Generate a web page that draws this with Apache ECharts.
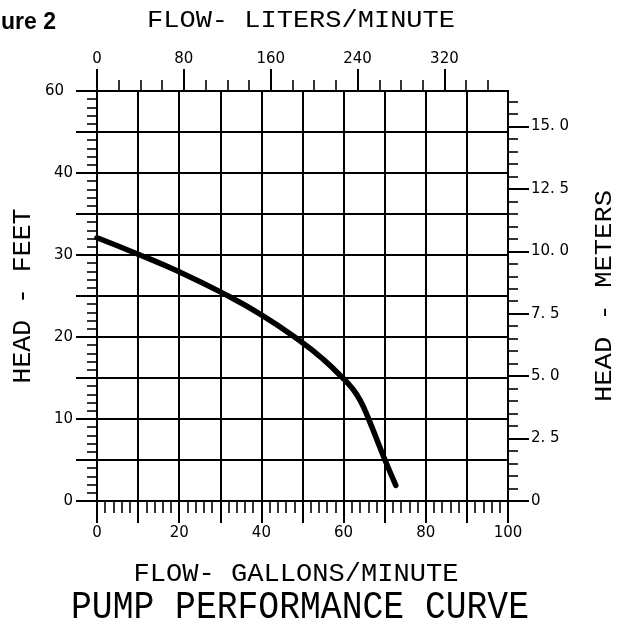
<!DOCTYPE html>
<html><head><meta charset="utf-8">
<script src="https://cdn.jsdelivr.net/npm/echarts@6/dist/echarts.min.js"></script>
<style>html,body{margin:0;padding:0;background:#fff}#c{width:627px;height:625px}</style>
</head><body><div id="c"></div>
<script>
// ---- data ----
const flowGpm = [0, 10, 20, 30, 40, 50, 55, 60, 62, 64, 66, 70, 72.7];
const headFt  = [32.1, 30.1, 27.95, 25.5, 22.7, 19.3, 17.3, 14.9, 13.8, 12.3, 10.1, 5.1, 1.9];
const gpmTicks = [0, 20, 40, 60, 80, 100];
const gpmTickLabels = ['0', '20', '40', '60', '80', '100'];
const ftTicks = [0, 10, 20, 30, 40, 50];
const ftTickLabels = ['0', '10', '20', '30', '40', '60'];
const literTicks = [0, 80, 160, 240, 320];
const literTickLabels = ['0', '80', '160', '240', '320'];
const meterTicks = [0, 2.5, 5, 7.5, 10, 12.5, 15];
const meterTickLabels = ['0', '2. 5', '5. 0', '7. 5', '10. 0', '12. 5', '15. 0'];
const topTitle = 'FLOW- LITERS/MINUTE';
const bottomTitle = 'FLOW- GALLONS/MINUTE';
const mainTitle = 'PUMP PERFORMANCE CURVE';
const leftTitle = 'HEAD - FEET';
const rightTitle = 'HEAD - METERS';
const figLabel = 'Figure 2';

// ---- scales ----
const LITERS_PER_GAL = 3.78541;
const literMax = 100 * LITERS_PER_GAL;
const meterMax = 16.42; // right scale as drawn in the reference
const literMinor = []; for (let v = 0; v <= 360; v += 20) literMinor.push(v);
const meterMinor = []; for (let v = 0; v <= 16; v += 0.5) meterMinor.push(v);

const BLACK = '#000';
const lab = { color: BLACK, fontFamily: 'DejaVu Sans', fontSize: 15 };
const ln = (w) => ({ color: BLACK, width: w });

const cvs = document.createElement('canvas').getContext('2d');
const TFONT = 'Liberation Mono';
function scaledText(text, cx, cy, width, capH, rot) {
  const size = capH / 0.66;
  const font = `normal ${size.toFixed(1)}px "${TFONT}"`;
  cvs.font = font;
  const w = cvs.measureText(text).width;
  return { type: 'text', x: cx, y: cy, rotation: rot || 0, scaleX: width / w, scaleY: 1,
    style: { text, font, fill: BLACK, align: 'center', verticalAlign: 'middle' }, silent: true };
}

const chart = echarts.init(document.getElementById('c'), null, { renderer: 'canvas' });
chart.setOption({
  animation: false,
  backgroundColor: '#fff',
  grid: { left: 97, top: 91, width: 411, height: 410, containLabel: false, outerBoundsMode: 'none' },
  xAxis: [
    { type: 'value', position: 'bottom', min: 0, max: 100, interval: 10,
      axisLine: { show: true, onZero: false, lineStyle: ln(2) },
      axisTick: { show: true, inside: false, length: 22, lineStyle: ln(2) },
      minorTick: { show: true, splitNumber: 5, length: 12, lineStyle: ln(1.6) },
      splitLine: { show: true, lineStyle: ln(2) },
      axisLabel: Object.assign({ margin: 25, formatter: (v) => { const i = gpmTicks.indexOf(v); return i < 0 ? '' : gpmTickLabels[i]; } }, lab) },
    { type: 'value', position: 'top', min: 0, max: literMax,
      axisLine: { show: true, onZero: false, lineStyle: ln(2) },
      axisTick: { show: true, inside: false, length: 11, customValues: literMinor, lineStyle: ln(1.6) },
      splitLine: { show: false }, axisLabel: { show: false } },
    { type: 'value', position: 'top', min: 0, max: literMax,
      axisLine: { show: false, onZero: false },
      axisTick: { show: true, inside: false, length: 22, customValues: literTicks, lineStyle: ln(2) },
      splitLine: { show: false },
      axisLabel: Object.assign({ margin: 24, customValues: literTicks,
        formatter: (v) => { const i = literTicks.findIndex(t => Math.abs(t - v) < 1e-6); return i < 0 ? '' : literTickLabels[i]; } }, lab) }
  ],
  yAxis: [
    { type: 'value', position: 'left', min: 0, max: 50, interval: 5,
      axisLine: { show: true, onZero: false, lineStyle: ln(2) },
      axisTick: { show: true, inside: false, length: 21, lineStyle: ln(2) },
      minorTick: { show: true, splitNumber: 5, length: 10, lineStyle: ln(1.6) },
      splitLine: { show: true, lineStyle: ln(2) },
      axisLabel: Object.assign({ margin: 24,
        formatter: (v) => { const i = ftTicks.indexOf(v); if (i < 0) return ''; return i === ftTicks.length - 1 ? '{s|' + ftTickLabels[i] + '}' : ftTickLabels[i]; },
        rich: { s: Object.assign({ padding: [0, 9, 0, 0] }, lab) } }, lab) },
    { type: 'value', position: 'right', min: 0, max: meterMax,
      axisLine: { show: true, onZero: false, lineStyle: ln(2) },
      axisTick: { show: true, inside: false, length: 10, customValues: meterMinor, lineStyle: ln(1.6) },
      splitLine: { show: false }, axisLabel: { show: false } },
    { type: 'value', position: 'right', min: 0, max: meterMax,
      axisLine: { show: false, onZero: false },
      axisTick: { show: true, inside: false, length: 21, customValues: meterTicks, lineStyle: ln(2) },
      splitLine: { show: false },
      axisLabel: Object.assign({ margin: 23, customValues: meterTicks,
        formatter: (v) => { const i = meterTicks.findIndex(t => Math.abs(t - v) < 1e-6); return i < 0 ? '' : meterTickLabels[i]; } }, lab) }
  ],
  series: [{
    type: 'line', xAxisIndex: 0, yAxisIndex: 0,
    data: flowGpm.map((x, i) => [x, headFt[i]]),
    smooth: 0.5, symbol: 'none', clip: false,
    lineStyle: { color: BLACK, width: 5.5, cap: 'round' }
  }],
  graphic: [
    { type: 'text', x: 56, y: 23, silent: true,
      style: { text: figLabel, font: 'bold 23px "Liberation Sans"', fill: BLACK, align: 'right', verticalAlign: 'middle' } },
    scaledText(topTitle, 301, 21, 308, 16, 0),
    scaledText(bottomTitle, 296, 574, 325, 17, 0),
    scaledText(mainTitle, 300, 608, 458, 25, 0),
    scaledText(leftTitle, 23, 296, 175, 17, Math.PI / 2),
    scaledText(rightTitle, 605, 296, 212, 16, Math.PI / 2)
  ]
});
</script></body></html>
